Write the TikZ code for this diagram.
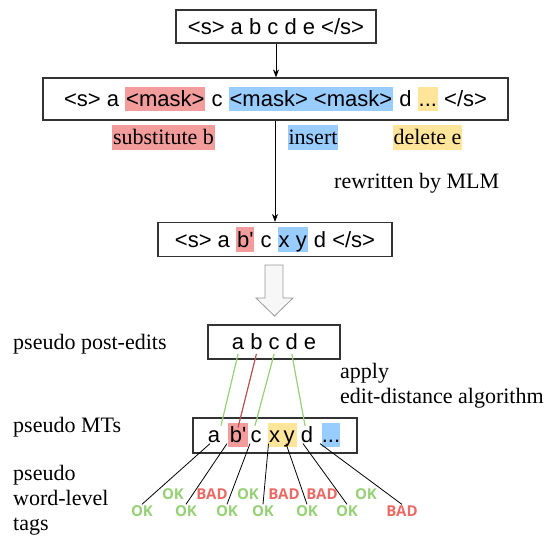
\documentclass[tikz,border=0pt]{standalone}
\usepackage{fontspec}
\setmainfont{Liberation Serif}
\newfontfamily\arialfont{Liberation Sans}
\newfontfamily\tagfont{Open Sans}
\usetikzlibrary{arrows.meta}
\tikzset{>={Stealth[length=8pt,width=6pt]}}

\definecolor{hlred}{HTML}{F29C9C}
\definecolor{hlblue}{HTML}{99CCFF}
\definecolor{hlyellow}{HTML}{FFE599}
\definecolor{okgreen}{HTML}{97D077}
\definecolor{badred}{HTML}{EA6B66}
\definecolor{linered}{HTML}{B85450}
\definecolor{boxgray}{HTML}{333333}

\newcommand{\hlbox}[2]{{\setlength{\fboxsep}{0pt}\colorbox{#1}{\kern1pt\rule[-0.212em]{0pt}{1.117em}#2\kern1pt}}}

\tikzset{
  sent/.style={draw=boxgray, line width=1.2pt, font=\arialfont\fontsize{22}{25}\selectfont, inner sep=0pt},
  tok/.style={font=\arialfont\fontsize{22}{25}\selectfont, inner xsep=1pt, inner ysep=0pt, text height=19.9pt, text depth=4.7pt},
  lbl/.style={font=\fontsize{22}{25}\selectfont, inner xsep=1pt, inner ysep=0pt, text height=19.6pt, text depth=4.8pt},
  side/.style={font=\fontsize{22}{25}\selectfont, inner sep=0pt, align=left, anchor=west},
  ok/.style={font=\tagfont\bfseries\fontsize{15}{17}\selectfont, text=okgreen, inner sep=1pt},
  bad/.style={ok, text=badred},
  keep/.style={okgreen, line width=1.2pt},
  change/.style={linered, line width=1.2pt},
  tagline/.style={black, line width=0.8pt}
}

\begin{document}
\begin{tikzpicture}[x=1pt, y=-1pt]
	\useasboundingbox (0,0) rectangle (548,535);
	% rewriting with the MLM
	\node[sent, minimum width=200pt, minimum height=33pt] (src) at (276,26.5) {<s> a b c d e </s>};
	\node[sent, minimum width=465pt, minimum height=42pt] (masked) at (275.5,99)
	{<s> a \hlbox{hlred}{<mask>} c \hlbox{hlblue}{<mask> <mask>} d \hlbox{hlyellow}{...} </s>};
	\node[lbl, fill=hlred] (subst) at (163.5,137.5) {substitute b};
	\node[lbl, fill=hlblue] (ins) at (313,137.5) {insert};
	\node[lbl, fill=hlyellow] (del) at (427.5,137.5) {delete e};
	\node[lbl, anchor=west] (mlm) at (333,180.7) {rewritten by MLM};
	\node[sent, minimum width=234pt, minimum height=34pt] (rewr) at (275,239.5)
	{<s> a \hlbox{hlred}{b\textquotesingle} c \hlbox{hlblue}{x y} d </s>};
	\draw [->, line width=0.8pt] (src.south) -- (src.south |- masked.north);
	\draw [->, line width=0.8pt] (masked.south -| rewr.north) -- (rewr.north);
	\draw [gray!80, fill=gray!6, line width=0.8pt] (265,265) -- (283,265) -- (283,298) -- (293,298)
	-- (274.5,316) -- (256,298) -- (265,298) -- cycle;
	% pseudo data
	\node[side] (pelbl) at (13,344.4) {pseudo post-edits};
	\node[side] (apply) at (340,385.5) {apply\\edit-distance algorithm};
	\node[side] (mtlbl) at (13,427.7) {pseudo MTs};
	\node[side] (taglbl) at (13,500) {pseudo\\word-level\\tags};
	\node[sent, minimum width=132pt, minimum height=34pt] (pebox) at (274,342) {};
	\node[tok] (pa) at (238.1,341.4) {a};
	\node[tok] (pb) at (256.4,341.4) {b};
	\node[tok] (pc) at (274.1,341.4) {c};
	\node[tok] (pd) at (291.8,341.4) {d};
	\node[tok] (pe) at (310.1,341.4) {e};
	\node[sent, minimum width=164pt, minimum height=35pt] (mtbox) at (275,435.5) {};
	\node[tok] (ma) at (214,435.1) {a};
	\node[tok, fill=hlred, inner xsep=2pt] (mb) at (238,435.1) {b\textquotesingle};
	\node[tok] (mc) at (256,435.1) {c};
	\node[tok, fill=hlyellow, minimum width=13pt, inner xsep=0pt] (mx) at (274.5,435.1) {x};
	\node[tok, fill=hlyellow, minimum width=16pt, inner xsep=0pt] (my) at (289,435.1) {y};
	\node[tok] (md) at (307,435.1) {d};
	\node[tok, fill=hlblue, inner xsep=0pt] (mdots) at (331,435.1) {...};
	% alignment
	\draw [keep] (pa.south) -- ([xshift=7pt, yshift=-3pt]ma.north);
	\draw [change] (pb.south) -- ([yshift=-5pt]mb.north);
	\draw [keep] (pc.south) -- ([xshift=-1pt, yshift=-3pt]mc.north);
	\draw [keep] (pd.south) -- ([xshift=-2pt, yshift=-3pt]md.north);
	% tags
	\foreach \x/\s/\t/\n in {173/ok/OK/1, 212/bad/BAD/2, 248/ok/OK/3, 284/bad/BAD/4, 322/bad/BAD/5, 366/ok/OK/6}
	\node[\s] (gap\n) at (\x,494) {\t};
	\foreach \tk/\x/\s/\t/\dx in {ma/142/ok/OK/-4, mb/186/ok/OK/-11, mc/227/ok/OK/-6, mx/263/ok/OK/-6, my/307/ok/OK/-3, md/347/ok/OK/-4, mdots/402/bad/BAD/-11}
	{
	\node[\s] (w\tk) at (\x,511) {\t};
	\draw [tagline] ([xshift=\dx pt, yshift=4pt]\tk.south) -- (w\tk.north);
	}
\end{tikzpicture}
\end{document}
